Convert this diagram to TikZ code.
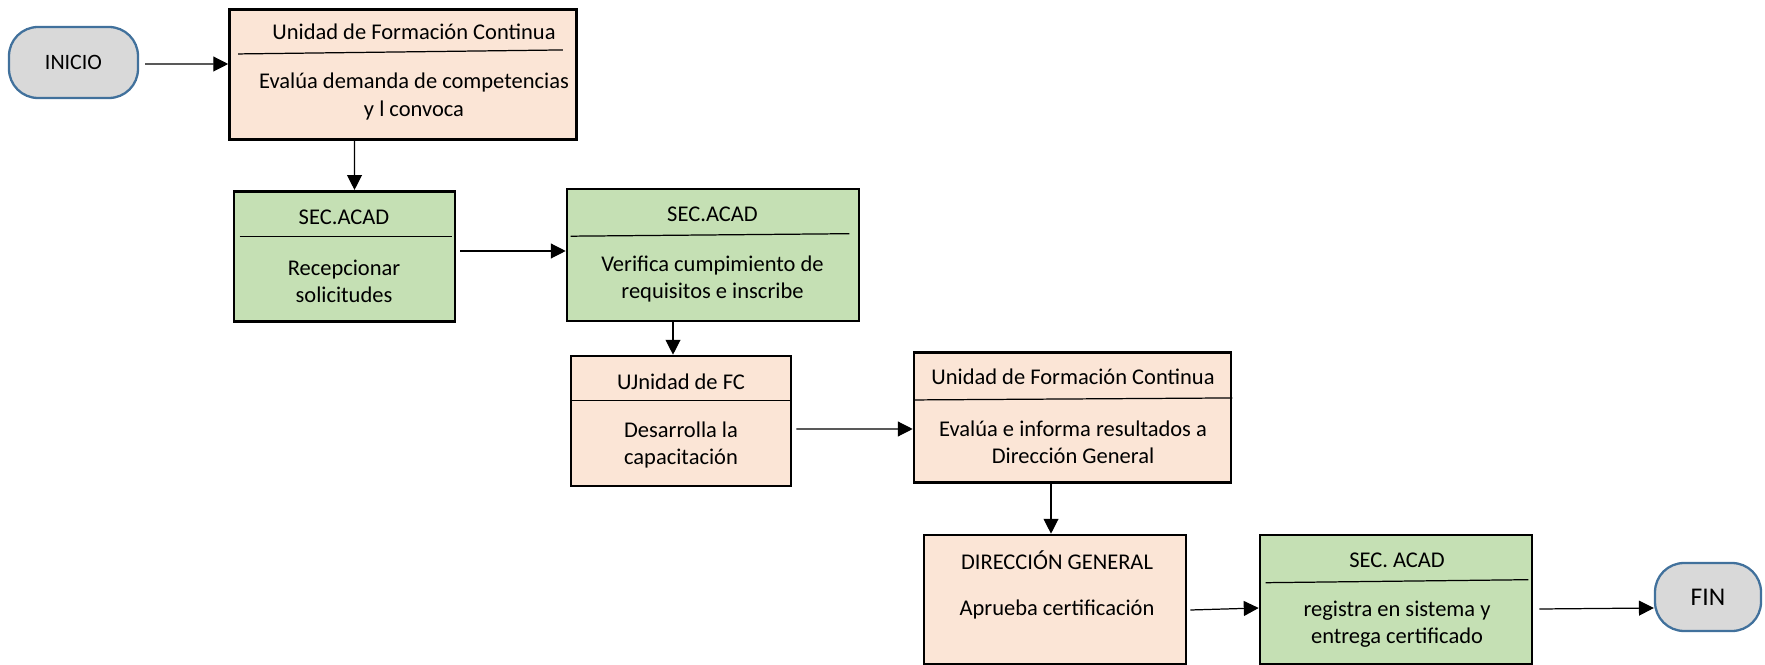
\documentclass[tikz,border=0pt]{standalone}
\usepackage{fontspec}
\setmainfont{Carlito}
\usetikzlibrary{arrows.meta,calc}

\definecolor{piel}{RGB}{251,229,214}
\definecolor{verde}{RGB}{197,224,180}
\definecolor{gris}{RGB}{217,217,217}
\definecolor{azul}{RGB}{65,113,156}

\begin{document}
\begin{tikzpicture}[x=0.02cm,y=-0.02cm,
    caja/.style={draw, line width=1.5pt, minimum height=2.61cm},
    term/.style={rectangle, rounded corners=0.58cm,
      draw=azul, fill=gris, line width=1.3pt},
    texto/.style={font=\fontsize{12.8}{15.4}\selectfont, align=center, inner sep=0pt},
    flecha/.style={-{Triangle[length=8.5pt,width=8.5pt]}, line width=0.7pt}]
    \useasboundingbox (0,0) rectangle (1765,665);

    % Terminales
    \node[term, minimum width=2.58cm, minimum height=1.42cm,
      font=\fontsize{12.5}{15}\selectfont] (ini) at (73.5,62.5) {INICIO};
    \node[term, minimum width=2.12cm, minimum height=1.36cm,
      font=\fontsize{14.5}{17}\selectfont] (fin) at (1708,597) {FIN};

    % Cajas de proceso
    \node[caja, fill=piel, minimum width=6.94cm] (uf1) at (403,74.5) {};
    \node[caja, fill=verde, minimum width=4.42cm] (sa1) at (344.5,256.5) {};
    \node[caja, fill=verde, minimum width=5.84cm, minimum height=2.64cm] (sa2) at (713,255) {};
    \node[caja, fill=piel, minimum width=4.4cm, minimum height=2.6cm] (uf2) at (681,421) {};
    \node[caja, fill=piel, minimum width=6.34cm] (uf3) at (1072.5,417.5) {};
    \node[caja, fill=piel, minimum width=5.24cm, minimum height=2.58cm] (dg) at (1055,599.5) {};
    \node[caja, fill=verde, minimum width=5.44cm, minimum height=2.58cm] (sa3) at (1396,599.5) {};

    % Lineas divisorias
    \foreach \n/\xa/\ya/\xb/\yb in {uf1/10/46/-15/42, sa1/7/46.5/-4/46.5,
        sa2/5/48.5/-11/46, uf2/1/46/-1/46, uf3/2/49/0/47, sa3/7/49/-5/46} {
      \draw[line width=0.7pt] ($(\n.north west)+(\xa,\ya)$) -- ($(\n.north east)+(\xb,\yb)$);
    }

    % Textos
    \node[texto] (uf1t) at (414,31.5) {Unidad de Formación Continua};
    \node[texto] (uf1c) at (414,96.5) {Evalúa demanda de competencias\\y l convoca};
    \node[texto] (sa1t) at (344,217) {SEC.ACAD};
    \node[texto] (sa1c) at (344,281.5) {Recepcionar\\solicitudes};
    \node[texto] (sa2t) at (712.5,214) {SEC.ACAD};
    \node[texto] (sa2c) at (712.5,279) {Verifica cumpimiento de\\requisitos e inscribe};
    \node[texto] (uf2t) at (681,381.5) {UJnidad de FC};
    \node[texto] (uf2c) at (681,445) {Desarrolla la\\capacitación};
    \node[texto] (uf3t) at (1073,377) {Unidad de Formación Continua};
    \node[texto] (uf3c) at (1073,442.5) {Evalúa e informa resultados a\\Dirección General};
    \node[texto] (dgt) at (1057,560.5) {DIRECCIÓN GENERAL};
    \node[texto] (dgc) at (1057,610) {Aprueba certificación};
    \node[texto] (sa3t) at (1397,560.5) {SEC. ACAD};
    \node[texto] (sa3c) at (1397,624) {registra en sistema y\\entrega certificado};

    % Flechas
    \draw[flecha] ($(ini.east)+(6,1.5)$) -- ($(uf1.west)+(0,-10.5)$);
    \draw[flecha] ($(uf1.south)+(-48.5,0)$) -- ($(sa1.north)+(10,0)$);
    \draw[flecha] ($(sa1.east)+(4,-5.5)$) -- ($(sa2.west)+(0,-4)$);
    \draw[flecha] ($(sa2.south)+(-40,0)$) -- ($(uf2.north)+(-8,0)$);
    \draw[flecha] ($(uf2.east)+(4,8)$) -- ($(uf3.west)+(0,11.5)$);
    \draw[flecha] ($(uf3.south)+(-21.5,0)$) -- ($(dg.north)+(-4,0)$);
    \draw[flecha] ($(dg.east)+(3,10.5)$) -- ($(sa3.west)+(0,8.5)$);
    \draw[flecha] ($(sa3.east)+(6,9.5)$) -- ($(fin.west)+(0,11)$);
\end{tikzpicture}
\end{document}
